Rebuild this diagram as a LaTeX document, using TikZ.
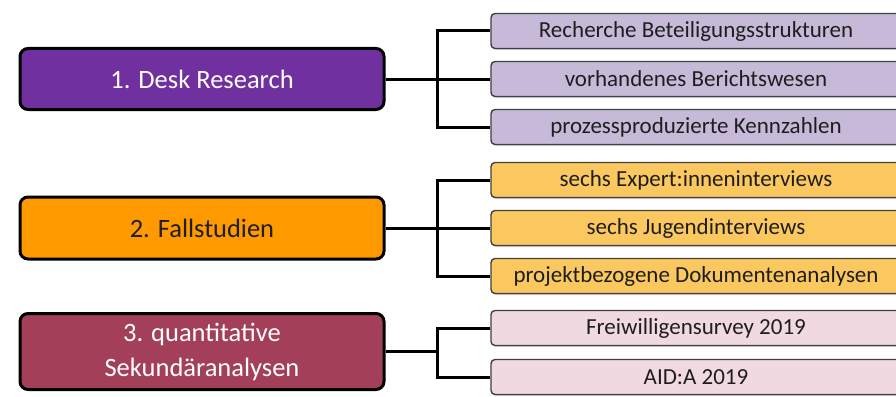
\documentclass[tikz,border=0pt]{standalone}
\usepackage{fontspec}
\setmainfont{Carlito}
\usetikzlibrary{shadows}
\definecolor{cPurple}{HTML}{7030A0}
\definecolor{cOrange}{HTML}{FF9900}
\definecolor{cRed}{HTML}{A43F5A}
\definecolor{lPurple}{HTML}{C7BAD9}
\definecolor{lOrange}{HTML}{FBC860}
\definecolor{lPink}{HTML}{F0D9E0}
\definecolor{txt}{HTML}{1E1E1E}
\tikzset{
  mainbox/.style={draw=black, line width=3pt, rounded corners=8pt, minimum width=364pt, text=white, font=\fontsize{26.5}{30}\selectfont, align=center, inner sep=0pt},
  subbox/.style={draw=black!75, line width=1.4pt, rounded corners=4pt, minimum width=410pt, minimum height=35pt, text=txt, font=\fontsize{23}{26}\selectfont, inner sep=0pt, drop shadow={shadow xshift=1pt, shadow yshift=-1.5pt, opacity=0.35}},
  conn/.style={draw=black, line width=3pt}
}
\begin{document}
\begin{tikzpicture}[x=1pt,y=-1pt]
\useasboundingbox (0,0) rectangle (896,396);
\clip (0,0) rectangle (896,396);
\fill[white] (0,0) rectangle (896,396);
% group 1
\node[mainbox, fill=cPurple, minimum height=61pt] (L1) at (202,79) {1. Desk Research};
\node[subbox, fill=lPurple] (R11) at (696,31) {Recherche Beteiligungsstrukturen};
\node[subbox, fill=lPurple] (R12) at (696,79) {vorhandenes Berichtswesen};
\node[subbox, fill=lPurple] (R13) at (696,127) {prozessproduzierte Kennzahlen};
\coordinate (b1) at (437,79);
\draw[conn] (L1.east) -- (b1);
\draw[conn] (R11.west) -- (R11.west -| b1) -- (R13.west -| b1) -- (R13.west);
\draw[conn] (R12.west) -- (b1);
% group 2
\node[mainbox, fill=cOrange, minimum height=62pt, text=txt] (L2) at (202,228) {2. Fallstudien};
\node[subbox, fill=lOrange] (R21) at (696,180) {sechs Expert:inneninterviews};
\node[subbox, fill=lOrange] (R22) at (696,228) {sechs Jugendinterviews};
\node[subbox, fill=lOrange] (R23) at (696,276) {projektbezogene Dokumentenanalysen};
\coordinate (b2) at (437,228);
\draw[conn] (L2.east) -- (b2);
\draw[conn] (R21.west) -- (R21.west -| b2) -- (R23.west -| b2) -- (R23.west);
\draw[conn] (R22.west) -- (b2);
% group 3
\node[mainbox, fill=cRed, minimum height=76pt] (L3) at (202,351.5) {3. quantitative\\[5pt]Sekundäranalysen};
\node[subbox, fill=lPink] (R31) at (696,328) {Freiwilligensurvey 2019};
\node[subbox, fill=lPink] (R32) at (696,377) {AID:A 2019};
\coordinate (b3) at (437,351.5);
\draw[conn] (L3.east) -- (b3);
\draw[conn] (R31.west) -- (R31.west -| b3) -- (R32.west -| b3) -- (R32.west);
\end{tikzpicture}
\end{document}
